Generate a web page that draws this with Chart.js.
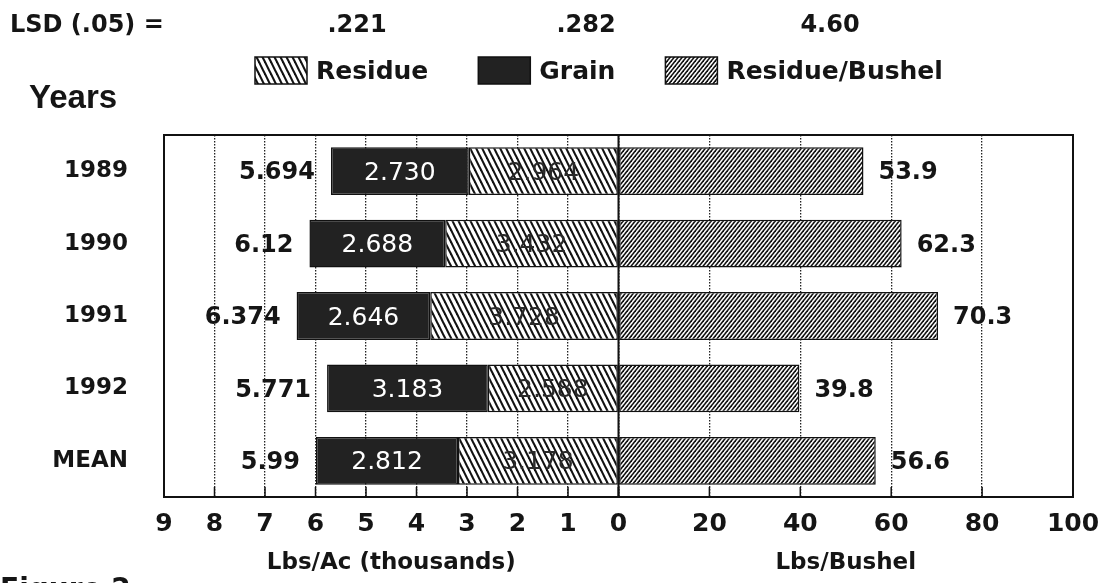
<!DOCTYPE html>
<html>
<head>
<meta charset="utf-8">
<script src="https://cdn.jsdelivr.net/npm/chart.js@4.4.0/dist/chart.umd.min.js"></script>
<style>
  html, body { margin: 0; padding: 0; background: #fff; }
  #wrap { width: 1105px; height: 583px; }
</style>
</head>
<body>
<div id="wrap"><canvas id="chart" width="1105" height="583"></canvas></div>
<script>
// values
const years = ['1989', '1990', '1991', '1992', 'MEAN'];
const residue = [2.964, 3.432, 3.728, 2.588, 3.178];
const grain = [2.730, 2.688, 2.646, 3.183, 2.812];
const totals = [5.694, 6.12, 6.374, 5.771, 5.99];
const residuePerBushel = [53.9, 62.3, 70.3, 39.8, 56.6];
const lsdLabel = 'LSD (.05) =';
const lsdValues = ['.221', '.282', '4.60'];
const acRange = [0, 9];
const bushelRange = [0, 100];

const ink = '#151515';
const FONT = '"DejaVu Sans"';

// hatch fills, white ground with dark strokes
function hatch(w, h, lw, back) {
  const c = document.createElement('canvas');
  c.width = w; c.height = h;
  const g = c.getContext('2d');
  g.fillStyle = '#fff';
  g.fillRect(0, 0, w, h);
  g.strokeStyle = '#111';
  g.lineWidth = lw;
  for (let k = -2; k <= 2; k++) {
    g.beginPath();
    if (back) {          // "\\\\"
      g.moveTo(k * w - w, -h);
      g.lineTo(k * w + 2 * w, 2 * h);
    } else {             // "////"
      g.moveTo(k * w + 2 * w, -h);
      g.lineTo(k * w - w, 2 * h);
    }
    g.stroke();
  }
  return g.createPattern(c, 'repeat');
}

const residueFill = hatch(6, 12, 2.1, true);
const bushelFill = hatch(4, 5, 1.6, false);
const grainFill = '#222';

const labelPlugin = {
  id: 'barLabels',
  afterDatasetsDraw(chart) {
    const ctx = chart.ctx;
    const res = chart.getDatasetMeta(0).data;
    const gr = chart.getDatasetMeta(1).data;
    const rb = chart.getDatasetMeta(2).data;
    ctx.save();
    ctx.textBaseline = 'middle';
    years.forEach((y, i) => {
      const g = gr[i], r = res[i], b = rb[i];
      ctx.font = 'bold 24px ' + FONT;
      ctx.fillStyle = ink;
      ctx.textAlign = 'right';
      ctx.fillText(String(totals[i]), Math.min(g.x, g.base) - 16, g.y + 2);
      ctx.textAlign = 'left';
      ctx.fillText(residuePerBushel[i].toFixed(1), Math.max(b.x, b.base) + 15, b.y + 2);
      ctx.textAlign = 'center';
      ctx.font = '25px ' + FONT;
      ctx.fillStyle = '#fff';
      ctx.fillText(grain[i].toFixed(3), (g.x + g.base) / 2, g.y + 2);
      ctx.fillStyle = '#2a2a2a';
      ctx.fillText(residue[i].toFixed(3), (r.x + r.base) / 2, r.y + 2);
    });
    ctx.restore();
  }
};

const framePlugin = {
  id: 'frame',
  afterDatasetsDraw(chart) {
    const ctx = chart.ctx;
    const a = chart.chartArea;
    const xl = chart.scales.xL, xr = chart.scales.xR;
    ctx.save();
    ctx.strokeStyle = '#111';
    ctx.lineWidth = 2;
    ctx.strokeRect(a.left, a.top, a.right - a.left, a.bottom - a.top);
    const zero = xr.getPixelForValue(0);
    ctx.beginPath();
    ctx.moveTo(zero, a.top);
    ctx.lineTo(zero, a.bottom);
    ctx.stroke();
    ctx.lineWidth = 1.5;
    [xl, xr].forEach(s => s.ticks.forEach(t => {
      const px = s.getPixelForValue(t.value);
      ctx.beginPath();
      ctx.moveTo(px, a.bottom - 10);
      ctx.lineTo(px, a.bottom);
      ctx.stroke();
    }));
    ctx.restore();
  }
};

const headerPlugin = {
  id: 'header',
  afterDraw(chart) {
    const ctx = chart.ctx;
    ctx.save();
    ctx.fillStyle = ink;
    ctx.textBaseline = 'alphabetic';
    ctx.font = 'bold 24px ' + FONT;
    ctx.textAlign = 'left';
    ctx.fillText(lsdLabel, 10, 32);
    ctx.textAlign = 'center';
    [357, 586, 830].forEach((x, i) => ctx.fillText(lsdValues[i], x, 32));

    // legend
    ctx.textAlign = 'left';
    ctx.font = 'bold 25px ' + FONT;
    let x = 255;
    chart.data.datasets.forEach(ds => {
      ctx.fillStyle = ds.backgroundColor;
      ctx.fillRect(x, 57, 52, 27);
      ctx.strokeStyle = '#111';
      ctx.lineWidth = 1.5;
      ctx.strokeRect(x, 57, 52, 27);
      ctx.fillStyle = ink;
      ctx.fillText(ds.label, x + 61, 79);
      x += 61 + ctx.measureText(ds.label).width + 50;
    });

    ctx.font = 'bold 33px "Liberation Sans"';
    ctx.fillText('Years', 29, 108);
    ctx.font = 'bold 28px ' + FONT;
    ctx.fillText('Figure 2', 0, 598);
    ctx.restore();
  }
};

Chart.defaults.font.family = FONT;
Chart.defaults.color = ink;

const xTicks = {
  padding: 12,
  font: { size: 25, weight: 'bold' },
  color: ink,
  maxRotation: 0,
  minRotation: 0,
  autoSkip: false
};

// fixed height for the bottom axes; labels at the ends may overhang the frame
function fitBottom(s) {
  s.height = 86;
  s.paddingLeft = 0;
  s.paddingRight = 0;
}

new Chart(document.getElementById('chart'), {
  type: 'bar',
  data: {
    labels: years,
    datasets: [
      { label: 'Residue', data: residue, backgroundColor: residueFill, xAxisID: 'xL', stack: 'a' },
      { label: 'Grain', data: grain, backgroundColor: grainFill, xAxisID: 'xL', stack: 'a' },
      { label: 'Residue/Bushel', data: residuePerBushel, backgroundColor: bushelFill, xAxisID: 'xR', stack: 'a' }
    ]
  },
  options: {
    indexAxis: 'y',
    responsive: false,
    animation: false,
    layout: { padding: { top: 135, right: 32, bottom: 0, left: 0 } },
    datasets: {
      bar: {
        borderColor: '#111',
        borderWidth: 1.5,
        borderSkipped: false,
        categoryPercentage: 1,
        barPercentage: 0.66
      }
    },
    plugins: { legend: { display: false }, tooltip: { enabled: false } },
    scales: {
      y: {
        type: 'category',
        grid: { display: false, drawTicks: false },
        border: { display: false },
        ticks: { font: { size: 23, weight: 'bold' }, color: ink, padding: 36 },
        afterFit: s => { s.width = 164; }
      },
      xL: {
        axis: 'x',
        type: 'linear',
        position: 'bottom',
        stack: 'x',
        stackWeight: 1,
        stacked: true,
        reverse: true,
        min: acRange[0],
        max: acRange[1],
        grid: { color: '#222', lineWidth: 1.3, drawTicks: false },
        border: { display: false, dash: [1.5, 1.5] },
        ticks: Object.assign({ stepSize: 1, callback: v => (v === 0 ? '' : v) }, xTicks),
        title: {
          display: true,
          text: 'Lbs/Ac (thousands)',
          font: { size: 23, weight: 'bold' },
          color: ink,
          padding: { top: 0, bottom: 6 }
        },
        afterFit: fitBottom
      },
      xR: {
        axis: 'x',
        type: 'linear',
        position: 'bottom',
        stack: 'x',
        stackWeight: 1,
        min: bushelRange[0],
        max: bushelRange[1],
        grid: { color: '#222', lineWidth: 1.3, drawTicks: false },
        border: { display: false, dash: [1.5, 1.5] },
        ticks: Object.assign({ stepSize: 20 }, xTicks),
        title: {
          display: true,
          text: 'Lbs/Bushel',
          font: { size: 23, weight: 'bold' },
          color: ink,
          padding: { top: 0, bottom: 6 }
        },
        afterFit: fitBottom
      }
    }
  },
  plugins: [framePlugin, labelPlugin, headerPlugin]
});
</script>
</body>
</html>
